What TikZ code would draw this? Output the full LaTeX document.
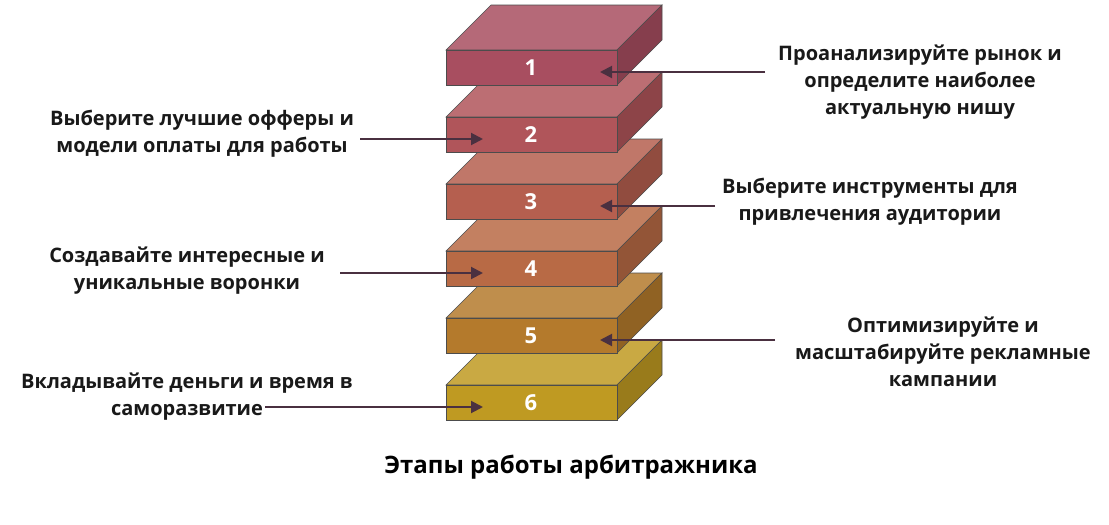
\documentclass[tikz,border=0pt]{standalone}
\usepackage{fontspec}
\setmainfont{Open Sans}
\usetikzlibrary{arrows.meta}
\begin{document}
\begin{tikzpicture}[x=1pt,y=-1pt,
  lbl/.style={font=\bfseries\fontsize{20}{27}\selectfont,align=center,text=black!90},
  num/.style={font=\bfseries\fontsize{22}{24}\selectfont,text=white},
  arr/.style={draw=arrc,line width=2pt,-{Triangle[length=12pt,width=12pt]}}]
\definecolor{arrc}{HTML}{4A3040}
\useasboundingbox[fill=white] (0,0) rectangle (1109,525);
\newcommand{\blk}[4]{% y, color, name, label
 \fill[#2!85!white,draw=black!70,line width=0.6pt] (446,#1) -- (491,#1-45) -- (662,#1-45) -- (617,#1) -- cycle;
 \fill[#2!80!black,draw=black!70,line width=0.6pt] (617,#1) -- (662,#1-45) -- (662,#1-10) -- (617,#1+35) -- cycle;
 \fill[#2,draw=black!70,line width=0.6pt] (446,#1) rectangle (617,#1+35);
 \node[num] (#3) at (531,#1+18) {#4};
 \coordinate (#3L) at (483,#1+22);
 \coordinate (#3R) at (600,#1+22);}
\definecolor{c1}{HTML}{A84E60}
\definecolor{c2}{HTML}{B0555A}
\definecolor{c3}{HTML}{B55F4F}
\definecolor{c4}{HTML}{B86A45}
\definecolor{c5}{HTML}{B47A2C}
\definecolor{c6}{HTML}{BF9A22}
\blk{385}{c6}{b6}{6}
\blk{318}{c5}{b5}{5}
\blk{251}{c4}{b4}{4}
\blk{184}{c3}{b3}{3}
\blk{117}{c2}{b2}{2}
\blk{50}{c1}{b1}{1}
\node[lbl] (t1) at (920,82) {Проанализируйте рынок и\\определите наиболее\\актуальную нишу};
\node[lbl] (t2) at (202,134) {Выберите лучшие офферы и\\модели оплаты для работы};
\node[lbl] (t3) at (870,202) {Выберите инструменты для\\привлечения аудитории};
\node[lbl] (t4) at (187,271) {Создавайте интересные и\\уникальные воронки};
\node[lbl] (t5) at (943,352) {Оптимизируйте и\\масштабируйте рекламные\\кампании};
\node[lbl] (t6) at (187,397) {Вкладывайте деньги и время в\\саморазвитие};
\node[font=\bfseries\fontsize{24}{26}\selectfont] (title) at (571,467) {Этапы работы арбитражника};
\draw[arr] (b1R) ++(165,0) coordinate (s1) (s1) -- (b1R);
\draw[arr] (b2L) ++(-123,0) coordinate (s2) (s2) -- (b2L);
\draw[arr] (b3R) ++(115,0) coordinate (s3) (s3) -- (b3R);
\draw[arr] (b4L) ++(-143,0) coordinate (s4) (s4) -- (b4L);
\draw[arr] (b5R) ++(175,0) coordinate (s5) (s5) -- (b5R);
\draw[arr] (b6L) ++(-218,0) coordinate (s6) (s6) -- (b6L);
\end{tikzpicture}
\end{document}
